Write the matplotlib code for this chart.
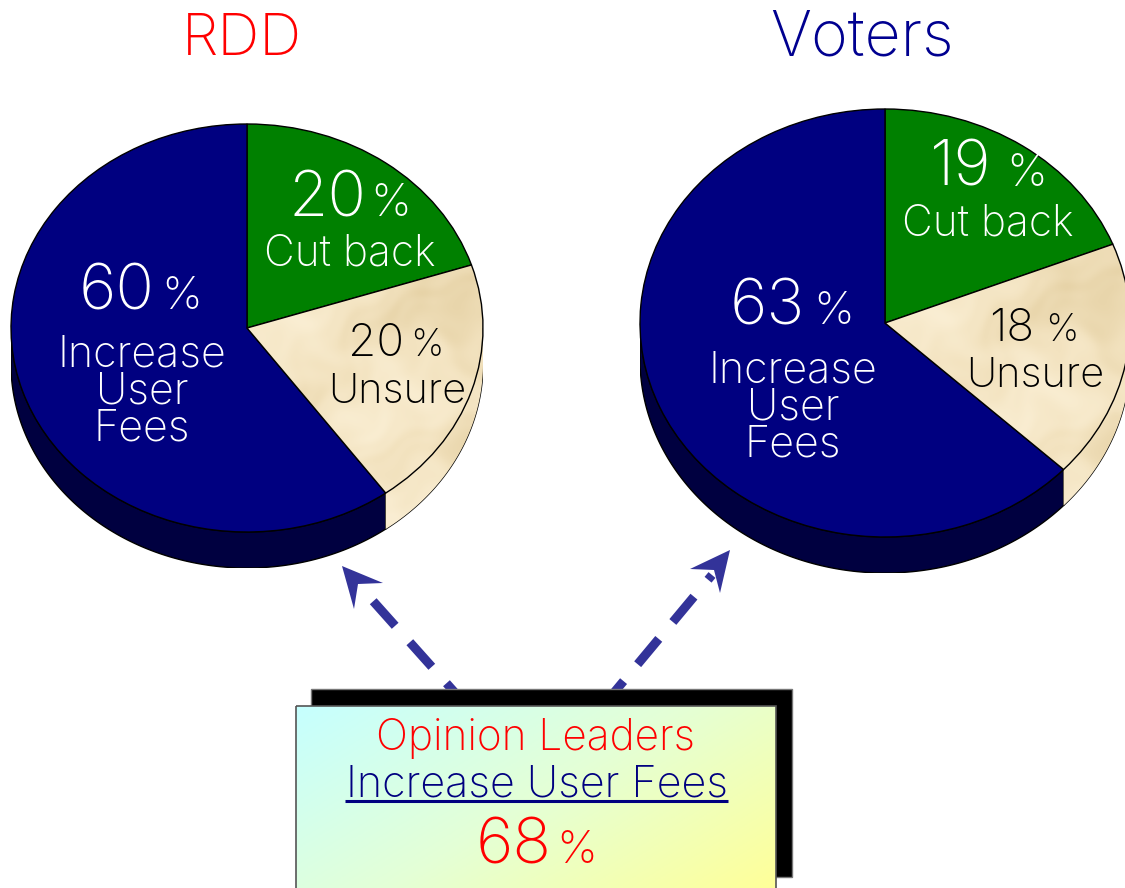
"""
RDD / Voters pie charts with opinion leaders box
"""
import matplotlib
matplotlib.use("Agg")
import matplotlib.pyplot as plt
import numpy as np
from matplotlib.colors import LinearSegmentedColormap
from matplotlib.patches import Polygon, Rectangle

plt.rcParams['font.family'] = ['Inter', 'DejaVu Sans']
plt.rcParams['font.weight'] = 'light'

W, H = 1125, 888

C_NAVY = "#000080"
C_WALL = "#000040"
C_GREEN = "#008000"
C_TAN = "#F3E3C0"
C_ARROW = "#333399"
C_RED = "#FF0000"

rdd_labels = ["Cut back", "Unsure", "Increase User Fees"]
rdd_values = [20, 20, 60]
voters_labels = ["Cut back", "Unsure", "Increase User Fees"]
voters_values = [19, 18, 63]
leaders_value = 68

fig = plt.figure(figsize=(W / 100, H / 100), dpi=100)
fig.patch.set_facecolor("white")


def parchment():
    # smooth blotches for the tan paper look
    xx, yy = np.meshgrid(np.linspace(-1, 1, 300), np.linspace(-1.2, 1, 300))
    wx = xx + 0.12 * np.sin(7 * yy + 1.1) + 0.05 * np.sin(19 * yy - 8 * xx)
    wy = yy + 0.12 * np.sin(6 * xx + 0.4) + 0.05 * np.sin(23 * xx + 9 * yy)
    t = (np.sin(5 * wx + 2 * wy) + np.sin(9 * wy - 4 * wx + 1.3) * 0.7
         + np.sin(21 * wx + 13 * wy) * 0.3 + np.sin(33 * wy - 27 * wx) * 0.2)
    return t / np.abs(t).max()


tan_cmap = LinearSegmentedColormap.from_list("tan", ["#E6D2A6", "#F3E3C0", "#FAEED3"])


def draw_pie(values, cx, cy, rx, ry, depth):
    d = depth / ry
    px_l, px_b = cx - rx, H - (cy + ry + depth)
    ax = fig.add_axes([px_l / W, px_b / H, 2 * rx / W, (2 * ry + depth) / H])
    wedges, _ = ax.pie(values, colors=[C_GREEN, C_TAN, C_NAVY], startangle=90,
                       counterclock=False, radius=1,
                       wedgeprops=dict(edgecolor="black", linewidth=1, zorder=3))
    ax.set_aspect("auto")

    # side wall, from the end of the tan slice out to both edges of the ellipse
    split = 90 - 360 * (values[0] + values[1]) / sum(values)
    tan_t = np.radians(np.linspace(split, 0, 80))
    navy_t = np.radians(np.linspace(split, -180, 160))
    for t, color in ((tan_t, C_TAN), (navy_t, C_WALL)):
        top = np.column_stack([np.cos(t), np.sin(t)])
        low = np.column_stack([np.cos(t), np.sin(t) - d])[::-1]
        wall = Polygon(np.vstack([top, low]), closed=True, facecolor=color,
                       edgecolor="black", linewidth=1, zorder=1)
        ax.add_patch(wall)
        if color == C_TAN:
            im = ax.imshow(parchment(), extent=(-1, 1, -1.2, 1), origin="lower",
                           cmap=tan_cmap, aspect="auto", zorder=2, vmin=-1, vmax=1)
            im.set_clip_path(wall)

    im = ax.imshow(parchment(), extent=(-1, 1, -1.2, 1), origin="lower",
                   cmap=tan_cmap, aspect="auto", zorder=4, vmin=-1, vmax=1)
    im.set_clip_path(wedges[1])
    ax.set_xlim(-1, 1)
    ax.set_ylim(-1 - d, 1)
    wedges[1].set_facecolor("none")
    wedges[1].set_zorder(5)
    return ax


draw_pie(rdd_values, 247, 328, 236, 204, 36)
draw_pie(voters_values, 885, 323, 245, 214, 36)

# overlay in pixel coordinates for the texts, arrows and box
ov = fig.add_axes([0, 0, 1, 1], facecolor="none")
ov.set_xlim(0, W)
ov.set_ylim(H, 0)
ov.axis("off")


def txt(x, y, s, size, color, ha="center"):
    ov.text(x, y, s, fontsize=size, color=color, ha=ha, va="baseline", zorder=20)


def pct(x_num, x_sign, y, value, size, sign_size, color):
    txt(x_num, y, f"{value}", size, color, ha="left")
    txt(x_sign, y, "%", sign_size, color, ha="left")


txt(242, 55, "RDD", 42, C_RED)
txt(862, 55, "Voters", 45, "#000090")

# RDD labels
pct(289, 370, 216, rdd_values[0], 46, 33, "white")
txt(350, 265, rdd_labels[0], 30.5, "white")
pct(79, 161, 309, rdd_values[2], 46, 33, "white")
txt(142, 366, "Increase", 31, "white")
txt(142, 403, "User", 31, "white")
txt(142, 440, "Fees", 31, "white")
pct(348, 410, 356, rdd_values[1], 33, 27, "black")
txt(397, 403, rdd_labels[1], 30, "black")

# Voters labels
pct(930, 1006, 186, voters_values[0], 46, 33, "white")
txt(988, 235, voters_labels[0], 30.5, "white")
pct(730, 813, 324, voters_values[2], 46, 33, "white")
txt(793, 382, "Increase", 31, "white")
txt(793, 419, "User", 31, "white")
txt(793, 456, "Fees", 31, "white")
pct(989, 1045, 341, voters_values[1], 33, 27, "black")
txt(1035, 387, voters_labels[1], 30, "black")

# dashed arrows
ov.plot([457, 373], [695, 601], color=C_ARROW, lw=6.5,
        linestyle=(1.9, (3.65, 2.44)), dash_capstyle="butt", zorder=5)
ov.plot([612, 712], [695, 575], color=C_ARROW, lw=6.5,
        linestyle=(1.65, (3.65, 2.44)), dash_capstyle="butt", zorder=5)
ov.add_patch(Polygon([(342, 566), (383, 583), (358, 584), (354, 609)], closed=True,
                     facecolor=C_ARROW, edgecolor="none", zorder=6))
ov.add_patch(Polygon([(730, 550), (690, 569), (714, 570), (720, 593)], closed=True,
                     facecolor=C_ARROW, edgecolor="none", zorder=6))

# box with shadow and gradient
ov.add_patch(Rectangle((311, 689), 481, 188, facecolor="black", edgecolor="#777777",
                       linewidth=1, zorder=7))
box_cmap = LinearSegmentedColormap.from_list("box", ["#C6FFFF", "#E4FFD6", "#FFFF99"])
xx, yy = np.meshgrid(np.linspace(0, 1, 200), np.linspace(0, 1, 200))
grad = ov.imshow(xx * 0.62 + yy * 0.38, extent=(296, 776, 888, 706), cmap=box_cmap,
                 aspect="auto", zorder=8, vmin=0, vmax=1)
ov.set_xlim(0, W)
ov.set_ylim(H, 0)
ov.add_patch(Rectangle((296, 706), 480, 200, facecolor="none", edgecolor="#555555",
                       linewidth=1.2, zorder=9))

txt(536, 750, "Opinion Leaders", 30.5, C_RED)
txt(537, 796, "Increase User Fees", 31, "#000080")
ov.plot([345, 728], [801, 801], color="#000080", lw=2.2, solid_capstyle="butt", zorder=21)
pct(476, 556, 863, leaders_value, 46, 33, C_RED)

fig.savefig("out.png", dpi=100)
